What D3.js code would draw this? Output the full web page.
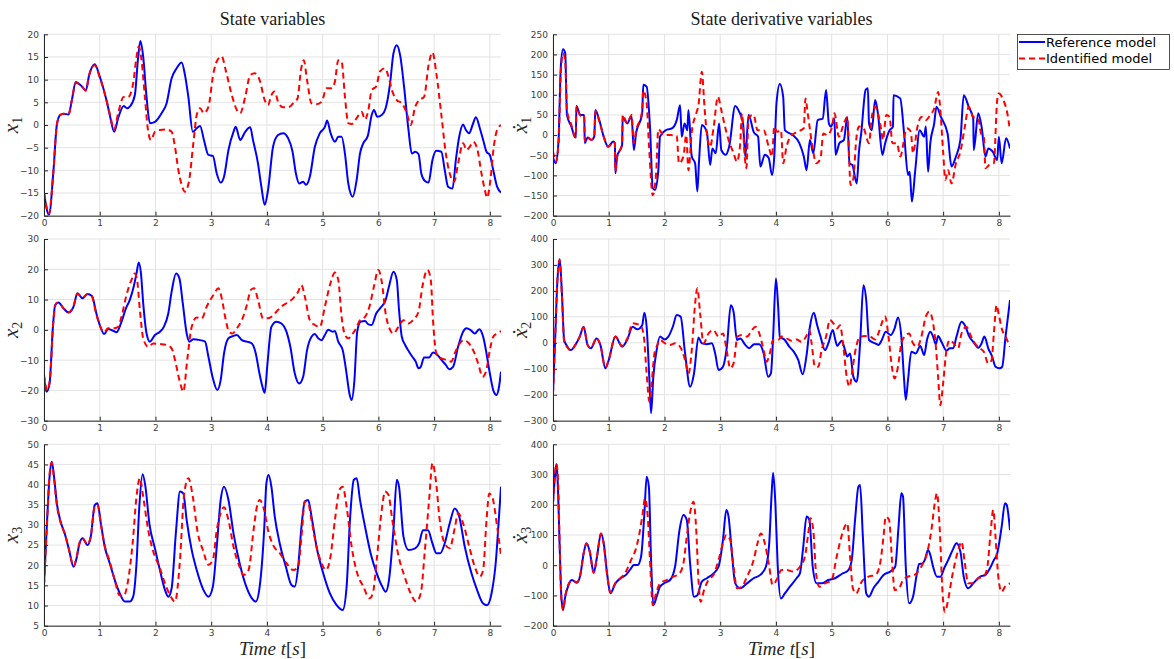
<!DOCTYPE html>
<html>
<head>
<meta charset="utf-8">
<script src="https://cdn.jsdelivr.net/npm/d3@7"></script>
<style>
  body { margin: 0; background: #fff; }
  svg { display: block; }
  .tick text { font-family: "DejaVu Sans", sans-serif; font-size: 9px; fill: #404040; }
</style>
</head>
<body>
<svg id="chart"></svg>
<script>
// time axis ticks
const timeTicks = [0, 1, 2, 3, 4, 5, 6, 7, 8];

// state x1
const x1Ref = [[0,-15],[0.09,-19.8],[0.17,-10],[0.23,0],[0.29,2.2],[0.35,2.5],[0.44,2.3],[0.5,5.5],[0.57,9.5],[0.68,8.5],[0.75,7.6],[0.81,11],[0.91,13.4],[1.0,10.7],[1.12,5.5],[1.18,2.2],[1.26,-1.5],[1.33,1.5],[1.43,4.2],[1.49,3.7],[1.55,4.2],[1.63,6.6],[1.69,15],[1.73,18.5],[1.78,15],[1.84,6.2],[1.9,0.4],[1.99,0.7],[2.11,2.6],[2.2,4.8],[2.29,10.3],[2.38,12.5],[2.47,13.8],[2.53,11],[2.59,6.2],[2.67,-1.5],[2.74,-0.7],[2.8,-0.2],[2.87,-3.3],[2.95,-6.6],[3.03,-6.8],[3.1,-10.7],[3.17,-12.7],[3.23,-11.4],[3.31,-5.5],[3.4,-1.5],[3.44,-0.4],[3.52,-3.3],[3.61,-1.5],[3.7,-0.5],[3.75,-3.3],[3.84,-8.5],[3.9,-13.6],[3.96,-17.6],[4.02,-14.3],[4.11,-4.8],[4.2,-2.2],[4.29,-1.8],[4.38,-2.9],[4.46,-5.9],[4.52,-10.7],[4.58,-12.9],[4.65,-12.5],[4.7,-13.2],[4.77,-11.4],[4.86,-4.8],[4.95,-1.8],[5.04,-0.4],[5.08,1],[5.14,-1.7],[5.22,-3.7],[5.28,-2.6],[5.34,-2.6],[5.4,-6.3],[5.46,-12.9],[5.54,-15.8],[5.61,-12.1],[5.67,-6.3],[5.73,-4],[5.81,-2.4],[5.88,2.2],[5.92,3.3],[5.98,1.8],[6.06,2.2],[6.13,3.7],[6.21,9.2],[6.27,15.8],[6.33,17.6],[6.39,15.4],[6.46,8.5],[6.54,-1.1],[6.6,-6.3],[6.66,-5.9],[6.72,-6.4],[6.77,-10.7],[6.83,-12.3],[6.9,-12.7],[6.97,-7.7],[7.04,-5.7],[7.13,-5.9],[7.19,-9.9],[7.25,-13.6],[7.33,-14],[7.39,-7.7],[7.45,-2.6],[7.52,0.1],[7.57,-1.1],[7.63,-1.8],[7.69,0],[7.75,1.7],[7.82,-0.7],[7.88,-3.3],[7.94,-5.9],[8.0,-6.6],[8.06,-9.9],[8.13,-13.6],[8.2,-14.9]];
const x1Id = [[0,-15],[0.09,-19.5],[0.17,-10],[0.23,0],[0.29,2.2],[0.35,2.5],[0.44,2.3],[0.5,5.5],[0.57,9.3],[0.68,8.5],[0.75,7.6],[0.81,11],[0.91,13.2],[1.0,10.5],[1.12,5.5],[1.18,2.5],[1.26,-1],[1.33,2.6],[1.43,6.2],[1.51,6.2],[1.6,9.2],[1.66,15],[1.7,17.3],[1.75,14.3],[1.81,6.2],[1.87,-1.5],[1.92,-3.3],[1.99,-1.5],[2.08,-1.1],[2.2,-1],[2.29,-1.5],[2.35,-4.8],[2.41,-9.9],[2.47,-13.2],[2.53,-14.7],[2.6,-12.5],[2.68,-4],[2.74,2.2],[2.8,3.7],[2.87,2.6],[2.95,4],[3.04,11.4],[3.11,14.3],[3.19,15.1],[3.26,12.1],[3.37,6.6],[3.46,3.3],[3.52,2.6],[3.61,6.2],[3.7,11],[3.78,11.4],[3.87,9.9],[3.96,5.5],[4.02,4.4],[4.08,6.6],[4.14,7.4],[4.2,5.1],[4.29,3.9],[4.4,4],[4.47,4.8],[4.55,5.9],[4.61,12.1],[4.66,14.3],[4.72,9.9],[4.8,4.8],[4.89,4.6],[4.98,5.1],[5.07,8.1],[5.16,8.1],[5.22,9.6],[5.28,14.3],[5.34,14],[5.4,6.2],[5.46,0.4],[5.52,0.2],[5.61,1.5],[5.7,2.9],[5.76,1.2],[5.82,3.3],[5.88,7.7],[5.96,8.5],[6.03,11.8],[6.12,12.5],[6.18,10.7],[6.25,7.4],[6.33,5.5],[6.42,4.8],[6.51,2.6],[6.58,0],[6.66,4],[6.73,5.5],[6.82,6.2],[6.9,13.2],[6.97,16],[7.04,11.4],[7.13,2.2],[7.21,-6.3],[7.28,-10.7],[7.36,-12.5],[7.43,-8.5],[7.52,-4],[7.58,-5.5],[7.64,-4.8],[7.7,-3.7],[7.77,-5.1],[7.85,-10.7],[7.91,-14.3],[7.95,-16],[8.01,-12.1],[8.07,-4.8],[8.13,-1.1],[8.2,0]];

// state x2
const x2Ref = [[0,-15.5],[0.05,-20.4],[0.1,-17.7],[0.16,1],[0.2,8.2],[0.26,9],[0.35,7.1],[0.44,5.7],[0.53,7.7],[0.6,12.1],[0.69,10.4],[0.78,11.8],[0.86,11.2],[0.94,5.4],[1.0,1.6],[1.08,-1.4],[1.15,0.3],[1.24,-0.3],[1.3,-0.8],[1.38,2.1],[1.47,7.1],[1.54,9.9],[1.61,14.3],[1.66,18.6],[1.7,22.2],[1.74,18.6],[1.78,8.8],[1.84,-1.2],[1.9,-3.9],[1.99,-1.7],[2.08,-0.6],[2.15,1],[2.23,5.4],[2.29,12.6],[2.37,18.6],[2.43,17],[2.49,8.8],[2.56,-1.2],[2.61,-3.9],[2.68,-3.1],[2.8,-3.4],[2.89,-3.9],[2.95,-8.9],[3.03,-16],[3.11,-19.9],[3.17,-16.6],[3.23,-7.8],[3.31,-2.8],[3.4,-2],[3.46,-1.7],[3.55,-3.4],[3.64,-3.9],[3.73,-4.5],[3.8,-7.8],[3.86,-13.8],[3.92,-18.8],[3.96,-20.8],[4.01,-11.1],[4.08,1],[4.17,2.7],[4.26,2.1],[4.35,-0.6],[4.42,-5.6],[4.5,-14.4],[4.58,-17.7],[4.65,-15.5],[4.72,-6.7],[4.8,-2.3],[4.86,-1.4],[4.92,-2.8],[4.98,-3.4],[5.04,-1.7],[5.1,0],[5.18,-0.6],[5.22,-0.4],[5.28,-3.9],[5.36,-6.7],[5.42,-13.3],[5.48,-21],[5.52,-23.2],[5.57,-16.6],[5.62,-0.6],[5.68,2.7],[5.76,2.9],[5.82,1.8],[5.88,1.6],[5.96,5.4],[6.03,7.1],[6.13,9.9],[6.19,14.3],[6.27,19.2],[6.33,16.5],[6.37,6.6],[6.42,-2.3],[6.48,-5],[6.55,-7.2],[6.61,-8.9],[6.67,-10.5],[6.72,-12.7],[6.76,-12.2],[6.82,-9.1],[6.91,-9.1],[6.98,-7.5],[7.06,-8.3],[7.13,-9.9],[7.21,-11.6],[7.27,-13],[7.34,-12.2],[7.43,-5.6],[7.52,-0.6],[7.58,0.5],[7.65,0],[7.73,-1.2],[7.81,0.2],[7.88,-2.3],[7.94,-7.8],[8.0,-14.4],[8.07,-20.4],[8.12,-21.5],[8.16,-19.3],[8.2,-13.8]];
const x2Id = [[0,-14.8],[0.06,-20],[0.11,-15.5],[0.17,3.2],[0.22,8.8],[0.26,9],[0.35,7.1],[0.44,5.8],[0.53,7.9],[0.6,12],[0.69,10.6],[0.78,11.8],[0.86,11],[0.94,5],[1.0,1.5],[1.08,-0.8],[1.15,0.5],[1.24,0.5],[1.33,1],[1.39,4.3],[1.48,11.5],[1.57,16.5],[1.63,18.6],[1.67,16.5],[1.72,6.6],[1.78,-2.8],[1.87,-5.6],[1.96,-4.5],[2.08,-4.7],[2.2,-5],[2.29,-6.1],[2.35,-9.9],[2.43,-16.6],[2.5,-20.4],[2.57,-9.9],[2.65,1],[2.74,4.1],[2.83,3.8],[2.92,7.7],[3.04,11.5],[3.13,13.7],[3.19,10.4],[3.25,4.3],[3.32,-0.6],[3.38,-1.2],[3.46,0.5],[3.55,3.2],[3.64,8.2],[3.71,13.2],[3.77,13.7],[3.84,9.9],[3.93,3.8],[4.01,3.8],[4.08,4.3],[4.17,6],[4.26,7.7],[4.35,8.8],[4.47,10.4],[4.56,12.6],[4.62,14.8],[4.68,11],[4.77,3.2],[4.86,1.6],[4.95,1],[5.04,7.7],[5.14,15.4],[5.22,18.9],[5.28,16.5],[5.34,4.3],[5.4,-1.7],[5.46,-2.8],[5.52,-1.7],[5.6,0.5],[5.67,3.2],[5.76,4.3],[5.84,7.7],[5.92,14.3],[6.0,19.8],[6.06,15.9],[6.13,5.4],[6.21,0],[6.27,-1.2],[6.36,1],[6.45,3.2],[6.54,2.1],[6.62,3.2],[6.72,6],[6.79,14.3],[6.88,19.8],[6.94,16.5],[6.98,3.2],[7.04,-7.8],[7.13,-9.4],[7.22,-9.9],[7.31,-10.5],[7.37,-7.8],[7.46,-4.5],[7.53,-3.4],[7.61,-4.2],[7.7,-6.7],[7.79,-11.1],[7.87,-15.5],[7.93,-13.8],[8.0,-6.7],[8.06,-2.3],[8.13,-1.2],[8.2,-0.4]];

// state x3
const x3Ref = [[0,15.1],[0.05,29.6],[0.1,42],[0.14,45.7],[0.18,42],[0.23,35.4],[0.29,31.2],[0.38,27.5],[0.45,23.8],[0.53,19.6],[0.59,22.1],[0.63,25],[0.69,26.7],[0.78,25],[0.84,27.1],[0.91,34.9],[0.96,35.4],[1.02,30.4],[1.09,24.6],[1.18,20.5],[1.27,16.3],[1.36,13],[1.45,11],[1.54,11],[1.6,12.2],[1.66,20.5],[1.71,34.5],[1.77,42.6],[1.82,39.5],[1.89,30.4],[1.99,24.2],[2.08,18.8],[2.17,13.9],[2.23,12.2],[2.29,14.3],[2.37,28.7],[2.44,38.3],[2.5,37.8],[2.56,31.2],[2.65,23.8],[2.74,18.8],[2.86,13.9],[2.95,12.2],[3.03,14.7],[3.1,24.6],[3.17,36.2],[3.23,39.5],[3.31,36.2],[3.4,27.9],[3.51,20.5],[3.63,14.7],[3.73,11.8],[3.8,11],[3.87,14.7],[3.95,28.7],[3.99,40.3],[4.03,42.4],[4.08,39.5],[4.14,32.1],[4.23,25.4],[4.34,19.6],[4.44,15.1],[4.5,14.7],[4.56,19.6],[4.62,29.6],[4.68,35.8],[4.74,36.2],[4.8,32.1],[4.89,24.6],[5.01,18],[5.13,13],[5.25,10.1],[5.36,8.9],[5.43,14.7],[5.49,31.2],[5.56,41.2],[5.61,41.6],[5.67,36.2],[5.76,29.6],[5.86,23],[5.97,18],[6.07,14.7],[6.13,13.4],[6.19,16.3],[6.27,28.7],[6.33,41.2],[6.37,39.5],[6.45,27.1],[6.54,23.8],[6.66,24.2],[6.73,25.4],[6.8,28.7],[6.89,28.7],[6.97,25.4],[7.04,23],[7.11,23],[7.19,25.4],[7.28,30.4],[7.37,34.1],[7.45,32.1],[7.55,24.6],[7.67,18],[7.77,13.9],[7.88,10.5],[7.95,10.1],[8.03,13],[8.11,21.3],[8.16,31.2],[8.2,39.5]];
const x3Id = [[0,15],[0.05,29],[0.1,42.5],[0.14,45.5],[0.18,41.5],[0.23,35],[0.29,31],[0.38,27.5],[0.45,23.8],[0.53,19.8],[0.59,22.3],[0.63,25.2],[0.69,26.7],[0.78,25.2],[0.84,27.3],[0.91,34.5],[0.96,35],[1.02,30.2],[1.09,24.8],[1.18,20.9],[1.27,16.3],[1.35,12.6],[1.43,12.4],[1.51,16.3],[1.59,25.4],[1.66,37],[1.72,41.6],[1.78,37],[1.87,28.7],[1.96,23.4],[2.07,19.6],[2.17,15.5],[2.26,12.6],[2.35,11],[2.44,21.3],[2.51,37],[2.59,41.6],[2.67,37],[2.75,28.7],[2.86,23.4],[2.95,20.1],[3.03,21.3],[3.1,28.7],[3.17,32.9],[3.23,34.4],[3.31,31.2],[3.4,24.6],[3.51,19.6],[3.58,17.6],[3.67,18.8],[3.76,28.7],[3.82,34.5],[3.87,36.2],[3.95,33.7],[4.02,28.7],[4.11,25],[4.23,23],[4.35,20.5],[4.47,18.8],[4.56,19.6],[4.62,27.1],[4.68,35.8],[4.74,35.4],[4.8,31.2],[4.89,24.6],[4.98,20.5],[5.06,18.8],[5.13,21.3],[5.22,31.2],[5.3,38.7],[5.36,39.5],[5.43,34.5],[5.52,24.6],[5.62,18],[5.73,14.7],[5.84,11.8],[5.9,13],[5.97,21.3],[6.06,33.7],[6.12,38.3],[6.18,37.5],[6.25,31.2],[6.35,23],[6.47,17.2],[6.58,13],[6.68,11],[6.76,13],[6.83,23],[6.91,36.2],[6.97,45.3],[7.03,41.2],[7.1,31.2],[7.19,25.4],[7.28,24.2],[7.37,29.2],[7.43,32.9],[7.52,30.4],[7.63,24.6],[7.73,19.6],[7.82,17.2],[7.88,18.8],[7.94,31.2],[7.99,37.8],[8.05,36.6],[8.13,29.6],[8.2,22.5]];

// derivative dx1
const dx1Ref = [[0,-55],[0.05,-70],[0.1,-12],[0.14,170],[0.18,213],[0.22,203],[0.24,95],[0.25,50],[0.33,21],[0.39,-4],[0.41,-6],[0.42,72],[0.49,50],[0.56,50],[0.57,-20],[0.62,-6],[0.69,-12],[0.74,-4],[0.76,62],[0.83,37],[0.91,-4],[0.99,-29],[1.08,-16],[1.11,-20],[1.12,-95],[1.15,-53],[1.24,-25],[1.25,45],[1.33,29],[1.41,47],[1.45,-37],[1.49,4],[1.6,54],[1.62,125],[1.68,120],[1.74,21],[1.79,-132],[1.83,-136],[1.89,-87],[1.92,-4],[2.02,12],[2.14,17],[2.22,37],[2.28,74],[2.31,-4],[2.36,29],[2.41,12],[2.43,62],[2.49,-53],[2.55,-70],[2.59,-140],[2.62,-66],[2.67,25],[2.76,8],[2.82,-74],[2.86,-33],[2.92,-45],[2.98,29],[3.02,-37],[3.1,-49],[3.16,-29],[3.27,72],[3.34,58],[3.41,29],[3.45,-53],[3.51,50],[3.6,8],[3.68,-4],[3.72,-78],[3.8,-49],[3.87,-57],[3.93,-99],[3.97,-53],[4.01,79],[4.07,127],[4.13,95],[4.16,12],[4.3,0],[4.42,-20],[4.5,-53],[4.55,-87],[4.61,-12],[4.67,-45],[4.75,37],[4.84,41],[4.9,112],[4.95,29],[4.99,21],[5.05,41],[5.07,-49],[5.14,-20],[5.22,-12],[5.28,45],[5.32,-70],[5.37,-74],[5.45,-120],[5.49,-41],[5.53,4],[5.61,112],[5.65,116],[5.67,29],[5.72,12],[5.78,87],[5.83,54],[5.91,-49],[5.96,-20],[6.04,12],[6.1,21],[6.11,99],[6.23,91],[6.3,4],[6.37,-99],[6.4,-91],[6.44,-165],[6.5,-87],[6.58,12],[6.66,-4],[6.69,21],[6.73,-91],[6.77,-20],[6.84,29],[6.88,70],[6.96,45],[7.08,4],[7.15,-78],[7.23,-53],[7.31,-12],[7.37,99],[7.46,70],[7.54,41],[7.55,-37],[7.63,54],[7.69,21],[7.76,-53],[7.81,-33],[7.89,-41],[7.97,-62],[8.0,-4],[8.05,-70],[8.13,-8],[8.2,-33]];
const dx1Id = [[0,-40],[0.05,-66],[0.1,-20],[0.14,153],[0.18,203],[0.22,182],[0.25,62],[0.33,25],[0.39,-2],[0.41,-4],[0.42,70],[0.49,48],[0.56,48],[0.57,-15],[0.62,-6],[0.69,-12],[0.74,-2],[0.76,60],[0.83,35],[0.91,-4],[0.99,-29],[1.08,-18],[1.11,-20],[1.12,-90],[1.15,-55],[1.24,-22],[1.25,50],[1.33,30],[1.41,50],[1.45,-20],[1.49,10],[1.6,60],[1.62,110],[1.68,80],[1.72,-20],[1.79,-149],[1.85,-95],[1.89,14],[1.99,0],[2.11,0],[2.22,-2],[2.26,-70],[2.34,-53],[2.39,0],[2.43,-87],[2.49,8],[2.57,54],[2.61,74],[2.67,157],[2.72,66],[2.76,4],[2.82,-29],[2.88,17],[2.96,95],[3.02,62],[3.08,25],[3.15,-12],[3.24,-45],[3.3,-66],[3.36,-20],[3.39,54],[3.44,-53],[3.47,-82],[3.51,45],[3.6,50],[3.67,12],[3.78,12],[3.87,-29],[3.93,-53],[3.97,21],[4.02,8],[4.09,12],[4.13,-70],[4.19,-29],[4.26,-4],[4.38,8],[4.5,17],[4.53,91],[4.57,54],[4.67,-41],[4.72,-70],[4.8,-58],[4.85,4],[4.92,0],[5.01,21],[5.05,54],[5.13,-4],[5.22,29],[5.28,45],[5.34,-124],[5.39,-107],[5.44,-12],[5.49,21],[5.57,17],[5.67,-20],[5.72,45],[5.78,70],[5.88,21],[5.92,-12],[5.98,50],[6.04,45],[6.09,-20],[6.17,-20],[6.23,-53],[6.35,17],[6.42,8],[6.46,-45],[6.54,21],[6.61,45],[6.69,37],[6.77,50],[6.84,66],[6.91,107],[6.94,79],[7.0,-41],[7.04,-111],[7.09,-87],[7.15,-120],[7.23,-70],[7.31,-41],[7.39,21],[7.46,70],[7.54,45],[7.63,41],[7.68,4],[7.73,-4],[7.76,-82],[7.83,-74],[7.91,-70],[7.97,87],[8.0,103],[8.08,87],[8.14,62],[8.2,12]];

// derivative dx2
const dx2Ref = [[0,-195],[0.04,24],[0.08,242],[0.12,322],[0.16,191],[0.2,11],[0.25,-12],[0.32,-28],[0.4,-8],[0.48,24],[0.55,62],[0.62,-8],[0.68,-21],[0.78,17],[0.85,-8],[0.94,-98],[1.0,-66],[1.12,24],[1.24,-15],[1.33,11],[1.43,62],[1.51,52],[1.6,68],[1.64,116],[1.68,62],[1.73,-143],[1.76,-271],[1.8,-131],[1.86,-28],[1.92,24],[2.0,13],[2.07,24],[2.15,62],[2.22,107],[2.29,101],[2.37,-41],[2.46,-169],[2.53,-118],[2.61,21],[2.67,-2],[2.76,-5],[2.85,-2],[2.91,-41],[2.97,-105],[3.05,-92],[3.12,-15],[3.19,145],[3.24,120],[3.3,11],[3.36,17],[3.45,-8],[3.52,-21],[3.61,-5],[3.7,-5],[3.78,-41],[3.86,-131],[3.91,-118],[3.95,24],[4.0,248],[4.04,139],[4.07,24],[4.16,11],[4.24,-15],[4.32,-34],[4.4,-66],[4.48,-121],[4.55,-47],[4.61,62],[4.68,116],[4.74,68],[4.8,24],[4.88,-28],[4.94,-2],[5.02,49],[5.06,17],[5.1,-12],[5.18,8],[5.24,-28],[5.28,-53],[5.33,-41],[5.39,-131],[5.45,-150],[5.51,-2],[5.57,222],[5.62,165],[5.67,11],[5.78,-2],[5.84,-8],[5.9,11],[5.97,43],[6.06,30],[6.13,56],[6.19,98],[6.25,24],[6.3,-143],[6.33,-220],[6.37,-143],[6.43,-34],[6.51,-41],[6.59,-12],[6.66,-47],[6.71,11],[6.77,43],[6.82,24],[6.87,-5],[6.91,26],[6.97,4],[7.06,-30],[7.12,-21],[7.18,-21],[7.24,24],[7.33,81],[7.39,68],[7.47,24],[7.54,4],[7.63,-19],[7.69,-2],[7.74,24],[7.81,-21],[7.88,-53],[7.94,-92],[8.01,-98],[8.06,-92],[8.12,24],[8.2,165]];
const dx2Id = [[0,-195],[0.04,30],[0.08,250],[0.12,319],[0.16,180],[0.2,5],[0.25,-15],[0.32,-30],[0.4,-8],[0.48,24],[0.55,60],[0.62,-8],[0.68,-21],[0.78,17],[0.85,-8],[0.94,-95],[1.0,-66],[1.12,24],[1.24,-12],[1.33,15],[1.43,75],[1.51,72],[1.57,68],[1.63,24],[1.68,-118],[1.73,-227],[1.77,-156],[1.82,-41],[1.86,-15],[1.92,11],[2.01,-2],[2.1,-8],[2.19,-2],[2.28,-15],[2.37,-66],[2.43,-118],[2.49,-28],[2.55,152],[2.59,210],[2.64,113],[2.7,-2],[2.79,36],[2.88,49],[2.97,24],[3.05,36],[3.12,-34],[3.18,-98],[3.24,-79],[3.31,24],[3.39,30],[3.48,24],[3.57,49],[3.63,62],[3.69,43],[3.78,-28],[3.83,-73],[3.89,-41],[3.95,11],[4.04,11],[4.1,24],[4.19,17],[4.28,8],[4.37,13],[4.46,4],[4.54,24],[4.6,49],[4.64,-2],[4.7,-92],[4.76,-92],[4.82,-28],[4.9,24],[4.97,88],[5.03,75],[5.1,56],[5.15,68],[5.21,-15],[5.27,-131],[5.32,-169],[5.38,-92],[5.44,-15],[5.51,24],[5.6,26],[5.69,24],[5.78,13],[5.86,49],[5.92,88],[5.96,101],[6.02,24],[6.08,-92],[6.13,-137],[6.19,-92],[6.25,-2],[6.31,24],[6.39,36],[6.46,-2],[6.54,-15],[6.61,24],[6.69,101],[6.75,120],[6.81,88],[6.87,-15],[6.91,-131],[6.95,-240],[7.0,-156],[7.06,-28],[7.12,11],[7.19,-2],[7.27,-21],[7.33,36],[7.42,62],[7.49,30],[7.57,-2],[7.66,-21],[7.73,-34],[7.81,-79],[7.87,-66],[7.91,36],[7.96,145],[8.0,107],[8.06,49],[8.12,24],[8.2,-15]];

// derivative dx3
const dx3Ref = [[0,205],[0.03,282],[0.06,335],[0.08,293],[0.12,61],[0.15,-104],[0.18,-148],[0.22,-104],[0.28,-65],[0.34,-49],[0.43,-58],[0.49,-32],[0.55,39],[0.6,73],[0.66,45],[0.73,-25],[0.79,28],[0.86,105],[0.91,73],[0.97,-27],[1.03,-93],[1.12,-60],[1.21,-43],[1.31,-32],[1.4,-10],[1.45,1],[1.52,1],[1.58,28],[1.64,172],[1.68,293],[1.72,260],[1.76,17],[1.8,-132],[1.86,-104],[1.92,-71],[2.01,-58],[2.1,-49],[2.19,-5],[2.27,117],[2.34,166],[2.4,150],[2.46,6],[2.53,-104],[2.59,-99],[2.67,-54],[2.76,-43],[2.88,-27],[2.97,-5],[3.05,84],[3.11,183],[3.15,161],[3.21,39],[3.27,-60],[3.36,-76],[3.48,-60],[3.6,-43],[3.72,-32],[3.82,-5],[3.88,73],[3.92,227],[3.95,306],[3.99,205],[4.03,6],[4.09,-110],[4.16,-93],[4.25,-71],[4.37,-43],[4.43,-27],[4.49,61],[4.55,161],[4.6,150],[4.66,-5],[4.73,-60],[4.82,-60],[4.94,-49],[5.06,-43],[5.18,-29],[5.3,-16],[5.36,17],[5.42,150],[5.48,260],[5.51,265],[5.56,94],[5.62,-93],[5.67,-104],[5.75,-76],[5.84,-54],[5.93,-32],[6.05,-21],[6.14,-5],[6.2,127],[6.25,238],[6.28,227],[6.33,-5],[6.39,-126],[6.46,-104],[6.53,-27],[6.57,4],[6.63,6],[6.67,17],[6.73,50],[6.77,34],[6.82,-5],[6.89,-38],[6.95,-38],[7.03,-5],[7.09,17],[7.17,50],[7.24,73],[7.31,45],[7.37,-38],[7.45,-76],[7.54,-60],[7.66,-38],[7.76,-32],[7.84,-10],[7.91,17],[7.97,39],[8.05,127],[8.11,205],[8.14,200],[8.2,116]];
const dx3Id = [[0,205],[0.03,290],[0.06,335],[0.09,282],[0.12,70],[0.15,-115],[0.18,-148],[0.22,-100],[0.28,-62],[0.34,-50],[0.43,-56],[0.49,-30],[0.55,40],[0.6,72],[0.66,45],[0.73,-25],[0.79,30],[0.86,105],[0.91,70],[0.97,-30],[1.03,-90],[1.12,-58],[1.21,-43],[1.31,-21],[1.4,17],[1.48,50],[1.55,105],[1.61,172],[1.65,221],[1.7,161],[1.74,17],[1.79,-132],[1.85,-93],[1.92,-60],[2.04,-49],[2.16,-38],[2.27,-27],[2.34,6],[2.4,94],[2.47,183],[2.52,210],[2.57,117],[2.61,-49],[2.65,-121],[2.71,-82],[2.79,-49],[2.88,-32],[2.97,17],[3.05,73],[3.11,100],[3.18,84],[3.24,-5],[3.3,-76],[3.39,-71],[3.48,-38],[3.6,17],[3.67,73],[3.73,105],[3.8,73],[3.88,-5],[3.94,-65],[4.01,-49],[4.1,-16],[4.19,-16],[4.31,-21],[4.43,-5],[4.52,28],[4.58,105],[4.62,155],[4.67,117],[4.72,-27],[4.78,-71],[4.88,-60],[5.0,-49],[5.09,28],[5.16,84],[5.24,130],[5.28,139],[5.33,28],[5.38,-76],[5.44,-93],[5.54,-54],[5.66,-38],[5.79,-32],[5.87,6],[5.93,94],[5.97,161],[6.03,150],[6.09,-5],[6.13,-82],[6.21,-76],[6.28,-49],[6.37,-38],[6.49,-32],[6.57,-16],[6.64,6],[6.71,39],[6.79,117],[6.85,205],[6.89,238],[6.94,117],[6.99,-93],[7.03,-154],[7.09,-115],[7.15,-49],[7.21,6],[7.29,61],[7.33,78],[7.39,6],[7.45,-60],[7.54,-60],[7.63,-43],[7.72,-38],[7.79,-10],[7.85,105],[7.9,183],[7.94,94],[7.99,-38],[8.05,-88],[8.11,-71],[8.2,-60]];

// y ticks per panel
const x1Ticks = [-20, -15, -10, -5, 0, 5, 10, 15, 20];
const x2Ticks = [-30, -20, -10, 0, 10, 20, 30];
const x3Ticks = [5, 10, 15, 20, 25, 30, 35, 40, 45, 50];
const dx1Ticks = [-200, -150, -100, -50, 0, 50, 100, 150, 200, 250];
const dx2Ticks = [-300, -200, -100, 0, 100, 200, 300, 400];
const dx3Ticks = [-200, -100, 0, 100, 200, 300, 400];

const seriesNames = ["Reference model", "Identified model"];
const colTitles = ["State variables", "State derivative variables"];

const width = 1174;
const height = 659;
const colX = [[44, 501], [553, 1010]];
const rowY = [[34.3, 215.7], [239, 420.7], [444.3, 625.7]];
const tDomain = [0, 8.2];
const blue = "#0000ff", red = "#ff0000";

let svg = d3.select("#chart").attr("width", width).attr("height", height);

const panels = [
  { col: 0, row: 0, ref: x1Ref, id: x1Id, ticks: x1Ticks, sym: "x", sub: "1" },
  { col: 0, row: 1, ref: x2Ref, id: x2Id, ticks: x2Ticks, sym: "x", sub: "2" },
  { col: 0, row: 2, ref: x3Ref, id: x3Id, ticks: x3Ticks, sym: "x", sub: "3" },
  { col: 1, row: 0, ref: dx1Ref, id: dx1Id, ticks: dx1Ticks, sym: "\u1E8B", sub: "1" },
  { col: 1, row: 1, ref: dx2Ref, id: dx2Id, ticks: dx2Ticks, sym: "\u1E8B", sub: "2" },
  { col: 1, row: 2, ref: dx3Ref, id: dx3Id, ticks: dx3Ticks, sym: "\u1E8B", sub: "3" }
];

panels.forEach((p, i) => drawPanel(p, i));

function drawPanel(p, i) {
  const [x0, x1] = colX[p.col];
  const [y0, y1] = rowY[p.row];
  const scX = d3.scaleLinear().domain(tDomain).range([x0, x1]);
  const scY = d3.scaleLinear().domain(d3.extent(p.ticks)).range([y1, y0]);

  const g = svg.append("g");

  // grid
  g.append("g").selectAll("line").data(timeTicks).enter().append("line")
    .attr("x1", d => scX(d)).attr("x2", d => scX(d))
    .attr("y1", y0).attr("y2", y1)
    .attr("stroke", "#e3e3e3").attr("stroke-width", 1);
  g.append("g").selectAll("line").data(p.ticks).enter().append("line")
    .attr("x1", x0).attr("x2", x1)
    .attr("y1", d => scY(d)).attr("y2", d => scY(d))
    .attr("stroke", "#e3e3e3").attr("stroke-width", 1);

  // clip
  svg.append("clipPath").attr("id", "clip" + i)
    .append("rect").attr("x", x0).attr("y", y0 - 2).attr("width", x1 - x0).attr("height", y1 - y0 + 2);

  const line = d3.line()
    .x(d => scX(d[0]))
    .y(d => scY(d[1]))
    .curve(d3.curveMonotoneX);

  const lines = g.append("g").attr("clip-path", `url(#clip${i})`);
  lines.append("path").datum(p.ref)
    .attr("d", line).attr("fill", "none")
    .attr("stroke", blue).attr("stroke-width", 2);
  lines.append("path").datum(p.id)
    .attr("d", line).attr("fill", "none")
    .attr("stroke", red).attr("stroke-width", 2)
    .attr("stroke-dasharray", "6,4");

  // axes
  const axX = g.append("g")
    .attr("transform", `translate(0, ${y1})`)
    .call(d3.axisBottom(scX).tickValues(timeTicks).tickSize(-4).tickSizeOuter(0).tickPadding(4));
  const axY = g.append("g")
    .attr("transform", `translate(${x0}, 0)`)
    .call(d3.axisLeft(scY).tickValues(p.ticks).tickSize(-4).tickSizeOuter(0).tickPadding(5));
  [axX, axY].forEach(a => {
    a.select(".domain").attr("stroke", "#262626").attr("stroke-width", 1);
    a.selectAll(".tick line").attr("stroke", "#262626");
  });

  // y label
  const lbl = g.append("text")
    .attr("transform", `translate(${x0 - 26}, ${(y0 + y1) / 2}) rotate(-90)`)
    .attr("text-anchor", "middle")
    .attr("font-family", "'Liberation Serif', serif")
    .attr("font-size", 21)
    .attr("fill", "#262626");
  lbl.append("tspan").attr("font-style", "italic").text(p.sym);
  lbl.append("tspan").attr("font-size", 14).attr("dy", 4).text(p.sub);
}

// column titles and time labels
colTitles.forEach((title, c) => {
  const cx = (colX[c][0] + colX[c][1]) / 2;
  svg.append("text")
    .attr("x", cx).attr("y", 25)
    .attr("text-anchor", "middle")
    .attr("font-family", "'Liberation Serif', serif")
    .attr("font-size", 18)
    .attr("fill", "#1a1a1a")
    .text(title);

  const tl = svg.append("text")
    .attr("x", cx).attr("y", 655)
    .attr("text-anchor", "middle")
    .attr("font-family", "'Liberation Serif', serif")
    .attr("font-size", 19)
    .attr("fill", "#262626");
  tl.append("tspan").attr("font-style", "italic").text("Time t");
  tl.append("tspan").text("[");
  tl.append("tspan").attr("font-style", "italic").text("s");
  tl.append("tspan").text("]");
});

// legend
const leg = svg.append("g");
leg.append("rect")
  .attr("x", 1017.5).attr("y", 34.5).attr("width", 152).attr("height", 35)
  .attr("fill", "#fff").attr("stroke", "#262626").attr("stroke-width", 0.8);
seriesNames.forEach((name, k) => {
  const y = 42 + k * 16.5;
  leg.append("line")
    .attr("x1", 1019).attr("x2", 1045).attr("y1", y).attr("y2", y)
    .attr("stroke", k === 0 ? blue : red).attr("stroke-width", 2)
    .attr("stroke-dasharray", k === 0 ? null : "6,4");
  leg.append("text")
    .attr("x", 1046).attr("y", y)
    .attr("dy", "0.35em")
    .attr("font-family", "'DejaVu Sans', sans-serif")
    .attr("font-size", 13)
    .attr("fill", "#000")
    .text(name);
});
</script>
</body>
</html>
